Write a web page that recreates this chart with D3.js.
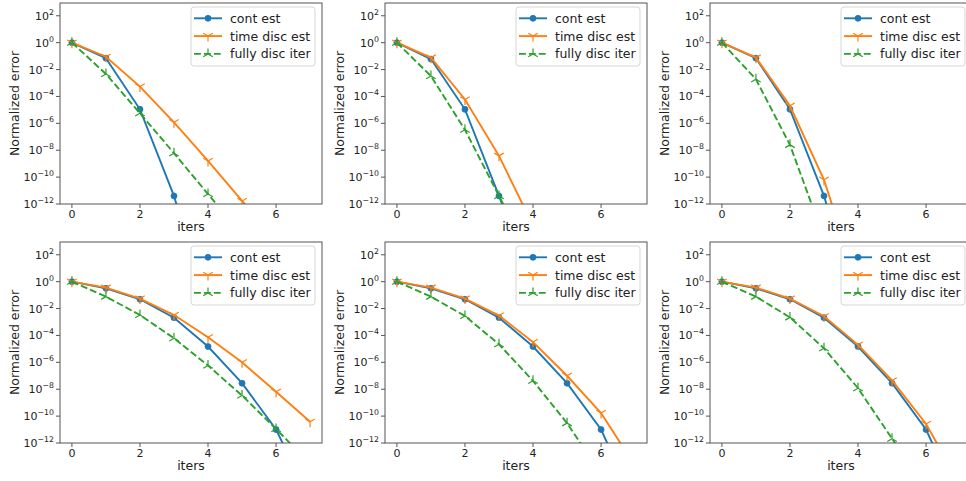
<!DOCTYPE html>
<html>
<head>
<meta charset="utf-8">
<script src="https://cdn.jsdelivr.net/npm/d3@7"></script>
<style>
  body { margin: 0; background: #fff; }
  svg { display: block; font-family: "DejaVu Sans", sans-serif; }
</style>
</head>
<body>
<svg id="chart" width="966" height="481"></svg>
<script>
// iteration index on x
const iters = [0, 1, 2, 3, 4, 5, 6, 7];

// one row per subplot (left to right, top to bottom)
const contEst = [
    [1, 0.07, 1.1e-5, 4e-12, 1e-20],
    [1, 0.06, 1.1e-5, 4e-12, 1e-18],
    [1, 0.07, 1.1e-5, 4e-12, 1e-20],
    [1, 0.32, 0.049, 2.1e-3, 1.5e-5, 2.8e-8, 1e-11, 6e-17],
    [1, 0.32, 0.049, 2.1e-3, 1.5e-5, 2.8e-8, 1e-11, 3e-17],
    [1, 0.32, 0.049, 2.1e-3, 1.5e-5, 2.8e-8, 1e-11, 3e-17]
];
const timeDiscEst = [
    [1, 0.09, 5.4e-4, 1.2e-6, 1.6e-9, 1.7e-12, 1.7e-15],
    [1, 0.077, 6e-5, 3.8e-9, 2.5e-14],
    [1, 0.077, 2e-5, 6.3e-11, 1e-18],
    [1, 0.36, 0.055, 3.3e-3, 7.4e-5, 1e-6, 6.4e-9, 3.8e-11],
    [1, 0.36, 0.055, 3e-3, 3.2e-5, 1e-7, 1.7e-10, 2e-14],
    [1, 0.36, 0.055, 2.7e-3, 2e-5, 4.5e-8, 2.6e-11, 8e-16]
];
const fullyDiscIter = [
    [1, 4.7e-3, 5.6e-6, 6e-9, 5.5e-12, 5e-15],
    [1, 3.3e-3, 3.3e-7, 4e-12, 4e-17],
    [1, 1.9e-3, 2.5e-8, 3e-15],
    [1, 0.077, 3.3e-3, 6.2e-5, 5.8e-7, 3.4e-9, 1.1e-11, 3e-14],
    [1, 0.077, 2.8e-3, 2.2e-5, 4.2e-8, 3e-11, 5e-15],
    [1, 0.077, 2.2e-3, 1.1e-5, 1.2e-8, 2.1e-12, 3e-16]
];

const seriesNames = ["cont est", "time disc est", "fully disc iter"];
const xTicks = [0, 2, 4, 6];
const yTickExps = [2, 0, -2, -4, -6, -8, -10, -12];

const colors = ["#1f77b4", "#ff7f0e", "#2ca02c"];
const markers = ["circle", "tri_down", "tri_up"];

const svg = d3.select("#chart");
const colLeft = [60, 385, 710];
const rowTop = [3, 242];
const w = 262, h = 201;
const fs = 12.5, tickFs = 11;

function markerPath(type, r) {
    const c = 0.866 * r, s = 0.5 * r;
    if (type === "tri_down") {
        return `M0,0L0,${r}M0,0L${-c},${-s}M0,0L${c},${-s}`;
    }
    return `M0,0L0,${-r}M0,0L${-c},${s}M0,0L${c},${s}`;
}

function drawMarker(sel, i, x, y) {
    if (markers[i] === "circle") {
        sel.append("circle").attr("cx", x).attr("cy", y).attr("r", 3)
            .attr("fill", colors[i]).attr("stroke", colors[i]).attr("stroke-width", 0.8);
    } else {
        sel.append("path").attr("d", markerPath(markers[i], 5.5))
            .attr("transform", `translate(${x},${y})`)
            .attr("fill", "none").attr("stroke", colors[i]).attr("stroke-width", 1.2);
    }
}

function drawPanel(p) {
    const left = colLeft[p % 3], top = rowTop[Math.floor(p / 3)];
    const g = svg.append("g").attr("transform", `translate(${left},${top})`);

    const xScale = d3.scaleLinear().domain([-0.35, 7.35]).range([0, w]);
    const yScale = d3.scaleLog().domain([1e-12, Math.pow(10, 2.95)]).range([h, 0]);

    svg.append("clipPath").attr("id", "clip" + p)
        .append("rect").attr("width", w).attr("height", h);

    const plot = g.append("g").attr("clip-path", `url(#clip${p})`);
    const line = d3.line().x((d, k) => xScale(iters[k])).y(d => yScale(d));

    [contEst[p], timeDiscEst[p], fullyDiscIter[p]].forEach((vals, i) => {
        plot.append("path")
            .attr("d", line(vals))
            .attr("fill", "none")
            .attr("stroke", colors[i])
            .attr("stroke-width", 1.9)
            .attr("stroke-dasharray", i === 2 ? "6.9,3" : null);
        vals.forEach((v, k) => drawMarker(plot, i, xScale(iters[k]), yScale(v)));
    });

    // frame
    g.append("rect").attr("width", w).attr("height", h)
        .attr("fill", "none").attr("stroke", "#555").attr("stroke-width", 1);

    // x ticks
    xTicks.forEach(t => {
        const x = xScale(t);
        g.append("line").attr("x1", x).attr("x2", x).attr("y1", h).attr("y2", h + 4)
            .attr("stroke", "#555");
        g.append("text").attr("x", x).attr("y", h + 14).attr("text-anchor", "middle")
            .attr("font-size", tickFs).attr("fill", "#222").text(t);
    });
    g.append("text").attr("x", w / 2).attr("y", h + 27).attr("text-anchor", "middle")
        .attr("font-size", fs).attr("fill", "#222").text("iters");

    // y ticks
    yTickExps.forEach(e => {
        const y = yScale(Math.pow(10, e));
        g.append("line").attr("x1", -4).attr("x2", 0).attr("y1", y).attr("y2", y)
            .attr("stroke", "#555");
        const t = g.append("text").attr("x", -6).attr("y", y + 4).attr("text-anchor", "end")
            .attr("font-size", tickFs).attr("fill", "#222");
        t.append("tspan").text("10");
        t.append("tspan").attr("font-size", 7.8).attr("dy", -5)
            .text(String(e).replace("-", "\u2212"));
    });
    g.append("text")
        .attr("transform", `translate(-41,${h / 2}) rotate(-90)`)
        .attr("text-anchor", "middle").attr("font-size", fs).attr("fill", "#222")
        .text("Normalized error");

    // legend
    const lg = g.append("g").attr("transform", "translate(131,4)");
    lg.append("rect").attr("width", 124).attr("height", 59).attr("rx", 3)
        .attr("fill", "#fff").attr("fill-opacity", 0.8)
        .attr("stroke", "#d6d6d6").attr("stroke-width", 1);
    seriesNames.forEach((name, i) => {
        const y = 11.3 + i * 17.8;
        lg.append("line").attr("x1", 3).attr("x2", 31).attr("y1", y).attr("y2", y)
            .attr("stroke", colors[i]).attr("stroke-width", 1.9)
            .attr("stroke-dasharray", i === 2 ? "6.9,3" : null);
        drawMarker(lg, i, 17, y);
        lg.append("text").attr("x", 39).attr("y", y + 4.4)
            .attr("font-size", fs).attr("fill", "#222").text(name);
    });
}

for (let p = 0; p < 6; p++) {
    drawPanel(p);
}
</script>
</body>
</html>
